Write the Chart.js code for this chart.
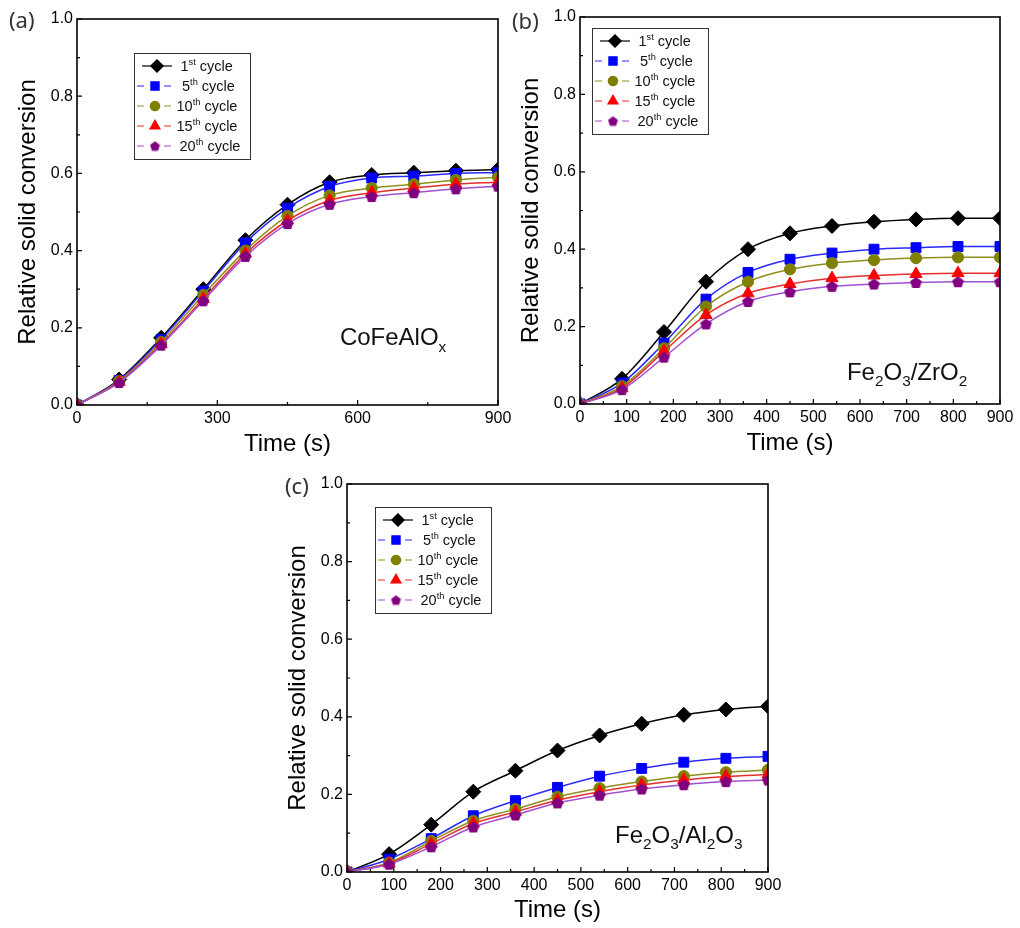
<!DOCTYPE html>
<html>
<head>
<meta charset="utf-8">
<script src="https://cdn.jsdelivr.net/npm/chart.js@4.4.0/dist/chart.umd.min.js"></script>
<style>
  body { margin: 0; background: #fff; width: 1020px; height: 928px; position: relative; overflow: hidden; }
  canvas { position: absolute; }
  .tag { position: absolute; font-family: "Noto Sans", "DejaVu Sans", sans-serif; font-size: 22px; color: #333; line-height: 1; }
</style>
</head>
<body>
<canvas id="chartA" width="520" height="460" style="left:0;top:0"></canvas>
<canvas id="chartB" width="510" height="460" style="left:510px;top:0"></canvas>
<canvas id="chartC" width="530" height="458" style="left:270px;top:470px"></canvas>
<div class="tag" style="left:9px;top:8px">(a)</div>
<div class="tag" style="left:512px;top:9px">(b)</div>
<div class="tag" style="left:285px;top:474px">(c)</div>

<script>
const tempos = [0, 90, 180, 270, 360, 450, 540, 630, 720, 810, 900];

// (a) CoFeAlOx
const cofe1  = [0, 0.066, 0.174, 0.300, 0.427, 0.519, 0.577, 0.596, 0.602, 0.607, 0.610];
const cofe5  = [0, 0.064, 0.170, 0.295, 0.420, 0.510, 0.566, 0.588, 0.593, 0.600, 0.602];
const cofe10 = [0, 0.062, 0.163, 0.285, 0.400, 0.490, 0.543, 0.562, 0.572, 0.583, 0.590];
const cofe15 = [0, 0.060, 0.158, 0.275, 0.392, 0.478, 0.530, 0.550, 0.562, 0.572, 0.577];
const cofe20 = [0, 0.058, 0.155, 0.270, 0.385, 0.470, 0.520, 0.540, 0.550, 0.560, 0.567];

// (b) Fe2O3/ZrO2
const zr1  = [0, 0.065, 0.186, 0.316, 0.400, 0.441, 0.460, 0.471, 0.477, 0.480, 0.480];
const zr5  = [0, 0.054, 0.157, 0.271, 0.340, 0.374, 0.390, 0.400, 0.404, 0.407, 0.407];
const zr10 = [0, 0.046, 0.144, 0.252, 0.316, 0.348, 0.364, 0.372, 0.377, 0.379, 0.379];
const zr15 = [0, 0.041, 0.136, 0.230, 0.286, 0.310, 0.325, 0.332, 0.336, 0.338, 0.338];
const zr20 = [0, 0.037, 0.121, 0.207, 0.265, 0.290, 0.304, 0.310, 0.314, 0.316, 0.316];

// (c) Fe2O3/Al2O3
const al1  = [0, 0.046, 0.122, 0.207, 0.261, 0.313, 0.352, 0.382, 0.405, 0.419, 0.427];
const al5  = [0, 0.033, 0.086, 0.145, 0.184, 0.218, 0.247, 0.267, 0.283, 0.293, 0.298];
const al10 = [0, 0.024, 0.080, 0.132, 0.162, 0.194, 0.216, 0.233, 0.247, 0.257, 0.263];
const al15 = [0, 0.022, 0.073, 0.125, 0.155, 0.185, 0.207, 0.224, 0.237, 0.246, 0.251];
const al20 = [0, 0.020, 0.065, 0.116, 0.147, 0.178, 0.198, 0.214, 0.225, 0.233, 0.237];

const ciclos  = ['1', '5', '10', '15', '20'];
const sufixos = ['st', 'th', 'th', 'th', 'th'];

const corMarca = ['#000000', '#0000ff', '#808000', '#ff0000', '#800080'];
const corLinha = ['#000000', '#2a2aff', '#8f8f1e', '#e62e2e', '#a24fd2'];
const fonte = 'Arial, "Liberation Sans", sans-serif';

// pentagono desenhado num canvas pequeno, usado como pointStyle
function pentagono(tam, cor) {
  const c = document.createElement('canvas');
  c.width = tam; c.height = tam;
  const g = c.getContext('2d');
  const r = tam / 2 - 0.3;
  const dy = (r - r * Math.cos(Math.PI / 5)) / 2;
  g.fillStyle = cor;
  g.beginPath();
  for (let i = 0; i < 5; i++) {
    const a = -Math.PI / 2 + i * 2 * Math.PI / 5;
    const px = tam / 2 + r * Math.cos(a);
    const py = tam / 2 + dy + r * Math.sin(a);
    if (i === 0) g.moveTo(px, py); else g.lineTo(px, py);
  }
  g.closePath();
  g.fill();
  return c;
}

const estilos = ['rectRot', 'rect', 'circle', 'triangle', pentagono(13, corMarca[4])];
const raios = [7.5, 7, 5.6, 7, 6.5];
// marcas menores na legenda
const estilosLeg = ['rectRot', 'rect', 'circle', 'triangle', pentagono(11, corMarca[4])];
const raiosLeg = [6.2, 5.8, 4.7, 5.8, 5.5];
const textoLegX = [46.5, 48, 42.5, 42.5, 45.5];

function montarSeries(listas) {
  return listas.map((vals, i) => ({
    label: ciclos[i] + sufixos[i] + ' cycle',
    data: vals.map((v, k) => ({ x: tempos[k], y: v })),
    borderColor: corLinha[i],
    borderWidth: 1.5,
    pointStyle: estilos[i],
    pointRadius: raios[i],
    pointBackgroundColor: corMarca[i],
    pointBorderColor: corMarca[i],
    pointBorderWidth: 1,
    cubicInterpolationMode: 'monotone',
    order: 5 - i
  }));
}

// texto com sub/sobrescritos
function textoRico(ctx, partes, x, y, tam) {
  let cx = x;
  partes.forEach(p => {
    const t = (p.sub || p.sup) ? tam * 0.64 : tam;
    const dy = p.sub ? tam * 0.27 : (p.sup ? -tam * 0.38 : 0);
    ctx.font = t + 'px ' + fonte;
    ctx.fillText(p.t, cx, y + dy);
    cx += ctx.measureText(p.t).width;
  });
}

const moldura = {
  id: 'moldura',
  afterDraw(chart, args, opts) {
    const { ctx, chartArea: ca, scales } = chart;
    ctx.save();
    // ticks para dentro, maiores e menores
    ctx.strokeStyle = '#000';
    ctx.lineWidth = 1.2;
    ctx.beginPath();
    for (let v = 0; v <= 900 + 0.01; v += opts.xMenor) {
      const px = scales.x.getPixelForValue(v);
      const maior = Math.abs(v / opts.xMaior - Math.round(v / opts.xMaior)) < 1e-6;
      ctx.moveTo(px, ca.bottom);
      ctx.lineTo(px, ca.bottom - (maior ? 5 : 3));
    }
    for (let k = 0; k <= 10; k++) {
      const py = scales.y.getPixelForValue(k / 10);
      ctx.moveTo(ca.left, py);
      ctx.lineTo(ca.left + (k % 2 === 0 ? 5 : 3), py);
    }
    ctx.stroke();
    ctx.lineWidth = 1.6;
    ctx.strokeRect(ca.left, ca.top, ca.right - ca.left, ca.bottom - ca.top);

    // legenda
    const bx = ca.left + opts.legX, by = ca.top + opts.legY;
    ctx.fillStyle = '#fff';
    ctx.fillRect(bx, by, 116, 106);
    ctx.lineWidth = 1;
    ctx.strokeStyle = '#333';
    ctx.strokeRect(bx + 0.5, by + 0.5, 116, 106);
    chart.data.datasets.forEach((ds, i) => {
      const ry = by + 13 + i * 20;
      ctx.strokeStyle = ds.borderColor;
      ctx.lineWidth = 1.2;
      ctx.beginPath();
      if (i === 0) {
        ctx.moveTo(bx + 8, ry); ctx.lineTo(bx + 38, ry);
      } else {
        ctx.moveTo(bx + 3, ry); ctx.lineTo(bx + 10, ry);
        ctx.moveTo(bx + 30, ry); ctx.lineTo(bx + 37, ry);
      }
      ctx.stroke();
      ctx.fillStyle = ds.pointBackgroundColor;
      ctx.strokeStyle = ds.pointBorderColor;
      Chart.helpers.drawPoint(ctx, { pointStyle: estilosLeg[i], radius: raiosLeg[i], rotation: 0, borderWidth: 1 }, bx + (i === 0 ? 23 : 21), ry);
      ctx.fillStyle = '#111';
      ctx.textBaseline = 'alphabetic';
      textoRico(ctx, [{ t: ciclos[i] }, { t: sufixos[i], sup: true }, { t: ' cycle' }], bx + textoLegX[i], ry + 5, 14.5);
    });

    // nome do material
    ctx.fillStyle = '#111';
    textoRico(ctx, opts.nome, scales.x.getPixelForValue(opts.nomeX), scales.y.getPixelForValue(opts.nomeY), 24);
    ctx.restore();
  }
};

function criarGrafico(id, listas, cfg) {
  new Chart(document.getElementById(id), {
    type: 'line',
    data: { datasets: montarSeries(listas) },
    plugins: [moldura],
    options: {
      responsive: false,
      animation: false,
      layout: { padding: { left: 0, top: cfg.topo, right: cfg.direita, bottom: 0 } },
      plugins: {
        legend: { display: false },
        tooltip: { enabled: false },
        moldura: cfg.moldura
      },
      scales: {
        x: {
          type: 'linear', min: 0, max: 900,
          grid: { display: false, drawTicks: false },
          border: { display: false },
          ticks: { stepSize: cfg.moldura.xMaior, padding: 4, maxRotation: 0, autoSkip: false, color: '#000', font: { family: fonte, size: 16 } },
          title: { display: true, text: 'Time (s)', color: '#000', font: { family: fonte, size: 24 }, padding: { top: 0, bottom: cfg.xTitulo } },
          afterFit: s => { s.height = cfg.altX; }
        },
        y: {
          min: 0, max: 1,
          grid: { display: false, drawTicks: false },
          border: { display: false },
          ticks: { stepSize: 0.2, padding: 4, color: '#000', font: { family: fonte, size: 16 }, callback: v => v.toFixed(1) },
          title: { display: true, text: 'Relative solid conversion', color: '#000', font: { family: fonte, size: 24 }, padding: { top: cfg.yTitulo, bottom: 0 } },
          afterFit: s => { s.width = cfg.largY; }
        }
      }
    }
  });
}

criarGrafico('chartA', [cofe1, cofe5, cofe10, cofe15, cofe20], {
  topo: 19, direita: 22, largY: 77, altX: 55, xTitulo: 1, yTitulo: 14,
  moldura: { xMaior: 300, xMenor: 150, legX: 57, legY: 34,
    nome: [{ t: 'CoFeAlO' }, { t: 'x', sub: true }], nomeX: 562, nomeY: 0.155 }
});

criarGrafico('chartB', [zr1, zr5, zr10, zr15, zr20], {
  topo: 17, direita: 20, largY: 70, altX: 56, xTitulo: 2, yTitulo: 7,
  moldura: { xMaior: 100, xMenor: 50, legX: 12, legY: 11,
    nome: [{ t: 'Fe' }, { t: '2', sub: true }, { t: 'O' }, { t: '3', sub: true }, { t: '/ZrO' }, { t: '2', sub: true }], nomeX: 572, nomeY: 0.062 }
});

criarGrafico('chartC', [al1, al5, al10, al15, al20], {
  topo: 14, direita: 32, largY: 77, altX: 56, xTitulo: 3, yTitulo: 14,
  moldura: { xMaior: 100, xMenor: 50, legX: 28, legY: 23,
    nome: [{ t: 'Fe' }, { t: '2', sub: true }, { t: 'O' }, { t: '3', sub: true }, { t: '/Al' }, { t: '2', sub: true }, { t: 'O' }, { t: '3', sub: true }], nomeX: 573, nomeY: 0.075 }
});
</script>
</body>
</html>
